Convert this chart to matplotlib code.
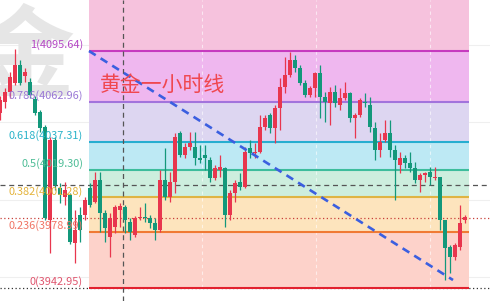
import matplotlib
matplotlib.use("Agg")
import matplotlib.pyplot as plt
import numpy as np

plt.rcParams['font.family'] = ['Noto Sans CJK SC', 'DejaVu Sans']

# ---------------- data ----------------
fib_high = 4095.64
fib_low = 3942.95
fib_ratios = [1, 0.786, 0.618, 0.5, 0.382, 0.236, 0]
fib_labels = ["1(4095.64)", "0.786(4062.96)", "0.618(4037.31)", "0.5(4019.30)",
              "0.382(4001.28)", "0.236(3978.99)", "0(3942.95)"]

candle_index = list(range(-1, 93))
opens = [4055.7, 4062.8, 4069.2, 4075.0, 4086.6, 4079.5, 4075.7, 4064.7, 4056.3, 4046.7,
         3986.8, 4038.3, 4007.4, 4001.6, 4002.9, 3972.0, 3990.0, 3990.0, 4007.4, 3998.4,
         4012.5, 3991.3, 3975.8, 3982.3, 3993.2, 3995.1, 3985.5, 3977.1, 3988.1, 3988.7,
         3988.1, 3984.8, 3980.3, 4012.5, 4001.6, 4011.2, 4042.8, 4028.6, 4033.8, 4033.8,
         4026.7, 4028.6, 4025.4, 4013.8, 4019.0, 4020.3, 3990.0, 4004.2, 4011.2, 4008.0,
         4033.1, 4029.9, 4030.6, 4046.7, 4054.4, 4046.0, 4058.9, 4072.5, 4080.2, 4089.8,
         4084.7, 4075.0, 4067.3, 4071.8, 4081.5, 4066.0, 4062.1, 4069.2, 4060.9, 4065.4,
         4068.6, 4052.5, 4054.4, 4062.8, 4060.9, 4046.0, 4031.9, 4038.3, 4042.8, 4031.9,
         4022.2, 4026.7, 4023.5, 4020.3, 4012.5, 4015.8, 4017.7, 4013.8, 4014.5, 3986.8,
         3969.4, 3962.9, 3969.4, 3986.8]
closes = [4064.1, 4069.2, 4078.9, 4086.6, 4075.0, 4082.1, 4067.3, 4055.7, 4046.0, 3988.1,
          4038.3, 4009.3, 4002.9, 4006.1, 3972.6, 3980.3, 3980.3, 3999.7, 3996.4, 4012.5,
          3991.3, 3981.6, 3988.1, 3995.1, 3995.8, 3986.8, 3979.0, 3988.1, 3988.7, 3988.1,
          3984.8, 3980.3, 4012.5, 4001.6, 4011.2, 4040.2, 4028.6, 4033.8, 4036.4, 4026.7,
          4025.4, 4026.7, 4013.8, 4020.3, 4020.9, 3990.0, 4004.2, 4010.6, 4008.0, 4030.6,
          4029.9, 4030.6, 4046.7, 4052.5, 4046.0, 4058.9, 4072.5, 4080.2, 4089.8, 4084.7,
          4075.0, 4067.3, 4071.8, 4081.5, 4066.0, 4062.8, 4069.2, 4062.1, 4065.4, 4068.6,
          4052.5, 4054.4, 4064.1, 4062.1, 4046.7, 4031.9, 4037.0, 4042.8, 4031.9, 4025.4,
          4026.7, 4023.5, 4020.3, 4012.5, 4015.8, 4017.0, 4014.5, 4014.5, 3986.8, 3968.7,
          3962.9, 3970.7, 3984.8, 3988.7]
highs = [4066.7, 4071.8, 4082.1, 4096.9, 4089.8, 4084.7, 4078.3, 4066.7, 4057.6, 4048.0,
         4040.2, 4040.2, 4010.6, 4011.2, 4004.2, 3993.2, 3995.1, 4001.6, 4010.6, 4017.7,
         4017.7, 3993.2, 3991.3, 3996.4, 3997.7, 3996.4, 3988.1, 3989.3, 3995.1, 3997.7,
         3990.0, 3988.1, 4019.0, 4033.1, 4017.7, 4042.8, 4044.1, 4036.4, 4043.5, 4043.5,
         4035.1, 4035.1, 4027.4, 4022.2, 4028.6, 4020.9, 4006.1, 4012.5, 4017.0, 4033.8,
         4038.3, 4036.4, 4054.4, 4054.4, 4055.7, 4060.9, 4078.3, 4091.8, 4095.0, 4093.1,
         4086.6, 4077.0, 4073.1, 4082.1, 4086.6, 4069.2, 4072.5, 4073.7, 4071.8, 4075.7,
         4069.2, 4055.7, 4065.4, 4068.6, 4066.0, 4049.9, 4042.8, 4051.2, 4051.2, 4035.1,
         4030.6, 4028.6, 4030.6, 4024.1, 4017.0, 4017.7, 4020.9, 4020.9, 4014.5, 3986.8,
         3970.7, 3972.0, 3996.4, 3990.0]
lows = [4051.2, 4058.9, 4065.4, 4073.7, 4073.7, 4075.7, 4065.4, 4054.4, 4043.5, 3986.8,
        3965.5, 4006.1, 3997.7, 3996.4, 3971.3, 3959.1, 3972.6, 3986.8, 3995.1, 3997.7,
        3979.0, 3972.6, 3962.9, 3978.4, 3982.3, 3978.4, 3973.9, 3975.8, 3986.8, 3985.5,
        3981.6, 3973.9, 3979.0, 3999.7, 3998.4, 4004.2, 4027.4, 4026.7, 4031.9, 4022.2,
        4023.5, 4019.0, 4011.2, 4012.5, 4014.5, 3982.3, 3986.8, 3998.4, 4006.1, 4007.4,
        4026.7, 4026.7, 4029.9, 4044.8, 4042.8, 4036.4, 4044.8, 4068.6, 4078.9, 4082.1,
        4073.7, 4066.0, 4066.0, 4066.0, 4052.5, 4049.9, 4048.0, 4059.6, 4057.6, 4064.1,
        4049.9, 4039.6, 4053.1, 4059.6, 4043.5, 4025.4, 4027.4, 4037.0, 4027.4, 3999.7,
        4017.0, 4020.3, 4017.7, 4010.6, 4004.8, 4011.2, 4009.3, 4012.5, 3980.3, 3948.1,
        3952.6, 3961.0, 3967.4, 3984.8]

fib_start, fib_end = 16.9, 92.9
trend_x = [16.9, 89.7]
trend_y = [4095.64, 3948.1]
crosshair_x = 23.7
crosshair_price = 4009.3
last_price = 3988.1
title_text = "黄金一小时线"

# ---------------- style ----------------
zone_colors = ['#f6c2dd', '#efb7ef', '#ddd6f1', '#bde9f4', '#cdeede', '#fde4bd', '#fdd2ca']
line_colors = ['#c63abf', '#a274dc', '#27aed0', '#3dbd9c', '#dfb443', '#f07a34', '#e2222f']
label_colors = ['#b447c4', '#9a78d6', '#2ab3c9', '#4dbd96', '#e4b33a', '#f07565', '#e0566f']
up_color = '#e8364e'
down_color = '#13987b'

fig = plt.figure(figsize=(4.9, 3.01), dpi=100)
ax = fig.add_axes([0, 0, 1, 1])
ax.set_xlim(-0.9, 97.1)
ax.set_ylim(3934.58, 4128.50)
ax.axis('off')

# faint grid
for gy in [4099.5, 4049.9, 3999.7, 3950.0]:
    ax.axhline(gy, color='#efefef', lw=0.8, zorder=0)

# watermark
ax.text(4.0, 4090.0, "金", fontsize=72, color='#e6e6e6', fontweight='bold',
        ha='center', va='center', zorder=0.5)

levels = [fib_low + r * (fib_high - fib_low) for r in fib_ratios]
tops = [4128.50] + levels[:-1]
for lo, hi, c in zip(levels, tops, zone_colors):
    ax.fill_between([fib_start, fib_end], lo, hi, color=c, lw=0, zorder=1)

# vertical light grid over zones
for gx in [39.5, 62.3, 85.1]:
    ax.axvline(gx, color='white', lw=0.8, ls=(0, (3, 3)), alpha=0.6, zorder=1.5)

# dotted low line across
ax.axhline(fib_low, color='#333333', lw=0.9, ls=(0, (1, 2)), zorder=1.6)

for lv, c in zip(levels, line_colors):
    ax.plot([fib_start, fib_end], [lv, lv], color=c, lw=1.5, zorder=2,
            solid_capstyle='butt')

for lv, lab, c in zip(levels, fib_labels, label_colors):
    ax.annotate(lab, (15.7, lv), xytext=(0, 4.4), textcoords='offset points',
                ha='right', va='center', fontsize=7.9, color=c, zorder=6)

# crosshair & price lines
ax.axhline(crosshair_price, color='#555555', lw=0.9, ls=(0, (4, 3)), zorder=3)
ax.axvline(crosshair_x, color='#555555', lw=0.9, ls=(0, (4, 3)), zorder=3)
ax.axhline(last_price, color='#c8403a', lw=0.9, ls=(0, (1, 2)), zorder=3)

# candles
for x, o, c, h, l in zip(candle_index, opens, closes, highs, lows):
    col = up_color if c >= o else down_color
    ax.plot([x, x], [l, h], color=col, lw=0.9, zorder=4, solid_capstyle='butt')
    bot, top = min(o, c), max(o, c)
    if top - bot < 0.6:
        top = bot + 0.6
    ax.add_patch(plt.Rectangle((x - 0.4, bot), 0.8, top - bot, facecolor=col,
                               edgecolor='none', zorder=4.5))

# trend line
ax.plot(trend_x, trend_y, color='#3b5fe0', lw=1.9, ls=(0, (3.0, 2.2)), zorder=5)

ax.text(19.1, 4073.7, title_text, fontsize=15, color='#f0474f', ha='left',
        va='center', zorder=6)

fig.savefig('out.png', dpi=100)
